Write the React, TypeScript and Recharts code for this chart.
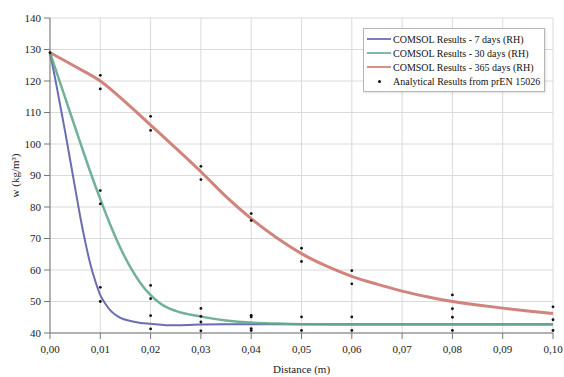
import {
  ComposedChart,
  Line,
  Scatter,
  XAxis,
  YAxis,
  CartesianGrid,
  Legend,
} from "recharts";

// moisture content w (kg/m³) along distance (m)
const distance7 = [0, 0.001, 0.002, 0.003, 0.004, 0.005, 0.006, 0.007, 0.008, 0.009, 0.01, 0.011, 0.012, 0.013, 0.014, 0.016, 0.018, 0.02, 0.023, 0.026, 0.03, 0.035, 0.04, 0.05, 0.06, 0.07, 0.08, 0.09, 0.1];
const moisture7 = [129, 121, 112.5, 104, 95, 86, 77, 69, 62, 56.5, 52, 49.3, 47.2, 45.8, 44.8, 43.8, 43.2, 42.9, 42.5, 42.5, 42.7, 42.8, 42.8, 42.8, 42.8, 42.8, 42.8, 42.8, 42.8];

const distance30 = [0, 0.002, 0.004, 0.006, 0.008, 0.01, 0.012, 0.014, 0.016, 0.018, 0.02, 0.022, 0.025, 0.03, 0.035, 0.04, 0.045, 0.05, 0.06, 0.07, 0.08, 0.09, 0.1];
const moisture30 = [129, 119.5, 110, 100.5, 91.2, 82.5, 74.3, 67, 60.8, 55.8, 52, 49.3, 47, 45.2, 44, 43.3, 43, 42.8, 42.7, 42.7, 42.7, 42.7, 42.7];

const distance365 = [0, 0.005, 0.01, 0.015, 0.02, 0.025, 0.03, 0.035, 0.04, 0.045, 0.05, 0.055, 0.06, 0.065, 0.07, 0.075, 0.08, 0.085, 0.09, 0.095, 0.1];
const moisture365 = [129, 124.6, 120, 113.3, 106, 98.7, 91.2, 83.3, 76.3, 70.3, 65.2, 61.2, 58, 55.5, 53.3, 51.5, 50, 48.9, 47.9, 47, 46.2];

const analyticalX = [
  0,
  0.01, 0.01, 0.01, 0.01, 0.01, 0.01,
  0.02, 0.02, 0.02, 0.02, 0.02, 0.02,
  0.03, 0.03, 0.03, 0.03, 0.03, 0.03,
  0.04, 0.04, 0.04, 0.04, 0.04, 0.04,
  0.05, 0.05, 0.05, 0.05,
  0.06, 0.06, 0.06, 0.06,
  0.08, 0.08, 0.08, 0.08,
  0.1, 0.1, 0.1,
];
const analyticalW = [
  129,
  121.8, 117.5, 85.2, 81, 54.5, 50,
  108.8, 104.3, 55.1, 50.9, 45.5, 41.3,
  92.9, 88.7, 47.8, 45.3, 43.5, 40.7,
  77.9, 75.7, 45.6, 45.1, 41.4, 40.8,
  66.9, 62.7, 45.1, 40.8,
  59.8, 55.6, 45.1, 40.8,
  52.1, 47.7, 45, 40.8,
  48.3, 44.2, 40.8,
];

const xTicks = [0, 0.01, 0.02, 0.03, 0.04, 0.05, 0.06, 0.07, 0.08, 0.09, 0.1];
const yTicks = [40, 50, 60, 70, 80, 90, 100, 110, 120, 130, 140];

const series = [
  { name: "COMSOL Results - 7 days (RH)", color: "#5b5ca8", width: 2, xs: distance7, ys: moisture7 },
  { name: "COMSOL Results - 30 days (RH)", color: "#62a88c", width: 2.5, xs: distance30, ys: moisture30 },
  { name: "COMSOL Results - 365 days (RH)", color: "#cb776e", width: 3, xs: distance365, ys: moisture365 },
];
const analyticalName = "Analytical Results from prEN 15026";

const seriesData = series.map((s) => s.xs.map((x, i) => ({ x, w: s.ys[i] })));
const analyticalData = analyticalX.map((x, i) => ({ x, w: analyticalW[i] }));

const font = '"Liberation Serif", "Times New Roman", serif';

const LegendBox = () => (
  <div
    style={{
      border: "1px solid #b5b5b5",
      background: "#fff",
      padding: "3px 4px 3px 3px",
      fontFamily: font,
      fontSize: 10,
      color: "#111",
      boxShadow: "1px 1px 2px rgba(0,0,0,0.12)",
    }}
  >
    {series.map((s) => (
      <div key={s.name} style={{ display: "flex", alignItems: "center", height: 14, whiteSpace: "nowrap" }}>
        <span style={{ display: "block", width: 24, height: 2, background: s.color, opacity: 0.8, marginRight: 2 }} />
        <span>{s.name}</span>
      </div>
    ))}
    <div style={{ display: "flex", alignItems: "center", height: 14, whiteSpace: "nowrap" }}>
      <span style={{ width: 24, marginRight: 2, display: "flex", justifyContent: "center" }}>
        <span style={{ width: 3, height: 3, borderRadius: "50%", background: "#111" }} />
      </span>
      <span>{analyticalName}</span>
    </div>
  </div>
);

const Dot = (props: any) => <circle cx={props.cx} cy={props.cy} r={1.4} fill="#111" />;

export default function App() {
  return (
    <div style={{ position: "absolute", left: 0, top: 0, width: 564, height: 377, background: "#fff" }}>
      <ComposedChart
        width={564}
        height={377}
        margin={{ top: 18, right: 11, left: 8, bottom: 0 }}
        style={{ fontFamily: font }}
      >
        <CartesianGrid stroke="#dadada" strokeWidth={1} />
        <XAxis
          dataKey="x"
          type="number"
          domain={[0, 0.1]}
          ticks={xTicks}
          interval={0}
          height={44}
          tickFormatter={(v: number) => v.toFixed(2).replace(".", ",")}
          tick={{ fontSize: 11, fill: "#222", fontFamily: font }}
          tickMargin={6}
          stroke="#777"
          label={{ value: "Distance (m)", position: "insideBottom", offset: 4, fontSize: 11, fill: "#222", fontFamily: font }}
        />
        <YAxis
          type="number"
          domain={[40, 140]}
          ticks={yTicks}
          interval={0}
          width={42}
          tick={{ fontSize: 11, fill: "#222", fontFamily: font }}
          tickMargin={3}
          stroke="#777"
          label={{
            value: "w (kg/m³)",
            angle: -90,
            position: "insideLeft",
            offset: 7,
            fontSize: 11,
            fill: "#222",
            fontFamily: font,
            style: { textAnchor: "middle" },
          }}
        />
        <YAxis yAxisId="frame" orientation="right" width={0} tick={false} tickLine={false} stroke="#999" domain={[40, 140]} />
        {series.map((s, i) => (
          <Line
            key={s.name}
            data={seriesData[i]}
            dataKey="w"
            name={s.name}
            type="monotone"
            stroke={s.color}
            strokeWidth={s.width}
            strokeOpacity={0.9}
            dot={false}
            activeDot={false}
            isAnimationActive={false}
          />
        ))}
        <Scatter
          data={analyticalData}
          dataKey="w"
          name={analyticalName}
          shape={<Dot />}
          isAnimationActive={false}
        />
        <Legend
          layout="horizontal"
          verticalAlign="middle"
          align="center"
          content={<LegendBox />}
          wrapperStyle={{ left: 363, top: 28, width: "auto" }}
        />
      </ComposedChart>
    </div>
  );
}
